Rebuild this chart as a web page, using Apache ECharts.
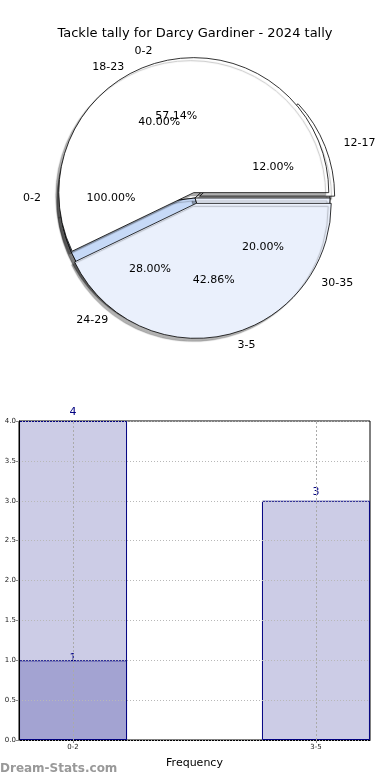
<!DOCTYPE html>
<html>
<head>
<meta charset="utf-8">
<script src="https://cdn.jsdelivr.net/npm/echarts@6/dist/echarts.min.js"></script>
<style>
html,body{margin:0;padding:0;background:#fff;}
#c{width:390px;height:780px;}
</style>
</head>
<body>
<div id="c"></div>
<script>
const titleText = 'Tackle tally for Darcy Gardiner - 2024 tally';
const tallyCats = ['0-2', '3-5'];
const tallyVals = [4, 3];
const bandCats = ['12-17', '18-23', '24-29', '30-35'];
const bandVals = [3, 10, 7, 5];
const singleCats = ['0-2'];
const singleVals = [1];
const barCats = ['0-2', '3-5'];
const barTotals = [4, 3];
const barSubs = [1, null];
const watermark = 'Dream-Stats.com';
const xName = 'Frequency';

const FONT = 'DejaVu Sans';
const CX = 195, CY = 198, R = 135;

const pies = [
  { names: singleCats, values: singleVals, colors: ['#ffffff'], explode: [0] },
  { names: bandCats, values: bandVals, colors: ['#ffffff', '#ffffff', '#c6d9f7', '#eaf0fc'], explode: [5, 0, 0, 0] },
  { names: tallyCats, values: tallyVals, colors: ['#ffffff', '#eaf0fc'], explode: [5.5, 5.5] }
];

const TRANSPARENT = { color: 'rgba(0,0,0,0)', borderWidth: 0, shadowBlur: 0, shadowColor: 'rgba(0,0,0,0)' };

function sliceSeries(p) {
  const total = p.values.reduce((a, b) => a + b, 0);
  let acc = 0;
  return p.values.map((v, i) => {
    const mid = (acc + v / 2) / total * 2 * Math.PI;
    acc += v;
    const ox = p.explode[i] * Math.cos(mid);
    const oy = -p.explode[i] * Math.sin(mid);
    return {
      type: 'pie',
      center: [CX + ox, CY + oy],
      radius: R,
      startAngle: 0,
      clockwise: false,
      avoidLabelOverlap: false,
      animation: false,
      silent: true,
      emphasis: { disabled: true },
      labelLayout: { hideOverlap: false },
      label: { show: true, position: 'outside', formatter: '{b}', fontSize: 11, color: '#000', fontFamily: FONT, distanceToLabelLine: 5 },
      labelLine: { show: false, length: 10, length2: 4 },
      data: p.values.map((w, j) => ({
        name: p.names[j],
        value: w,
        itemStyle: j === i ? {
          color: p.colors[j], borderColor: '#000', borderWidth: 0.8,
          shadowColor: 'rgba(0,0,0,0.3)', shadowOffsetX: -3, shadowOffsetY: 3, shadowBlur: 1
        } : TRANSPARENT,
        label: { show: j === i }
      }))
    };
  });
}

function pctSeries(p) {
  return {
    type: 'pie',
    center: [CX, CY],
    radius: [R * 0.2, R],
    startAngle: 0,
    clockwise: false,
    avoidLabelOverlap: false,
    animation: false,
    silent: true,
    emphasis: { disabled: true },
    labelLayout: { hideOverlap: false },
    label: {
      show: true, position: 'inside', rotate: 0, fontSize: 11, color: '#000', fontFamily: FONT,
      formatter: (q) => q.percent.toFixed(2) + '%'
    },
    labelLine: { show: false },
    data: p.values.map((w, j) => ({ name: p.names[j], value: w, itemStyle: TRANSPARENT }))
  };
}

const series = [];
pies.forEach(p => sliceSeries(p).forEach(s => series.push(s)));
pies.forEach(p => series.push(pctSeries(p)));

series.push({
  type: 'bar',
  xAxisIndex: 0, yAxisIndex: 0,
  barWidth: 108,
  barGap: '-100%',
  animation: false,
  silent: true,
  itemStyle: { color: '#cccce6', borderColor: '#000080', borderWidth: 1 },
  label: { show: true, position: 'top', distance: 3, color: '#000080', fontSize: 11, fontFamily: FONT },
  data: barTotals.map((v, i) => [i, v]),
  markLine: {
    silent: true, symbol: 'none', animation: false,
    label: { show: false },
    lineStyle: { color: '#aaaaaa', type: [2, 2], width: 1 },
    data: barCats.map((c, i) => ({ xAxis: i }))
  }
});
series.push({
  type: 'bar',
  xAxisIndex: 0, yAxisIndex: 0,
  barWidth: 108,
  barGap: '-100%',
  animation: false,
  silent: true,
  itemStyle: { color: '#a3a3d2', borderColor: '#000080', borderWidth: 1 },
  label: { show: true, position: 'top', distance: -3, color: '#000080', fontSize: 11, fontFamily: FONT },
  data: barSubs.map((v, i) => v == null ? [i, null] : [i, v])
});

const chart = echarts.init(document.getElementById('c'), null, { renderer: 'canvas' });
chart.setOption({
  animation: false,
  backgroundColor: '#ffffff',
  textStyle: { fontFamily: FONT },
  title: {
    text: titleText, left: 'center', top: 22,
    textStyle: { fontSize: 13, fontWeight: 'normal', color: '#000', fontFamily: FONT }
  },
  grid: { left: 19, right: 20, top: 421, bottom: 40, show: true, borderColor: '#000', borderWidth: 1, backgroundColor: 'transparent' },
  xAxis: {
    type: 'value', min: -0.2225, max: 1.2225,
    name: xName, nameLocation: 'middle', nameGap: 18,
    nameTextStyle: { fontSize: 11, color: '#000', fontFamily: FONT },
    axisLine: { show: true, onZero: false, lineStyle: { color: '#000' } },
    axisTick: { show: true, length: 3, customValues: [0, 1], lineStyle: { color: '#888' } },
    axisLabel: { customValues: [0, 1], fontSize: 7, color: '#222', margin: 4, formatter: (v) => barCats[Math.round(v)] },
    splitLine: { show: false }
  },
  yAxis: {
    type: 'value', min: 0, max: 4, interval: 0.5, z: 5,
    axisLine: { show: true, onZero: false, lineStyle: { color: '#000' } },
    axisTick: { show: true, length: 3, lineStyle: { color: '#888' } },
    axisLabel: { fontSize: 7, color: '#222', margin: 3, formatter: (v) => v.toFixed(1) },
    splitLine: { show: true, lineStyle: { color: '#b8b8b8', type: [1, 2], width: 1 } }
  },
  graphic: [{
    type: 'text', left: 0, top: 763,
    style: { text: watermark, fill: '#999999', font: 'bold 12px "DejaVu Sans"' }
  }],
  series: series
});
</script>
</body>
</html>
